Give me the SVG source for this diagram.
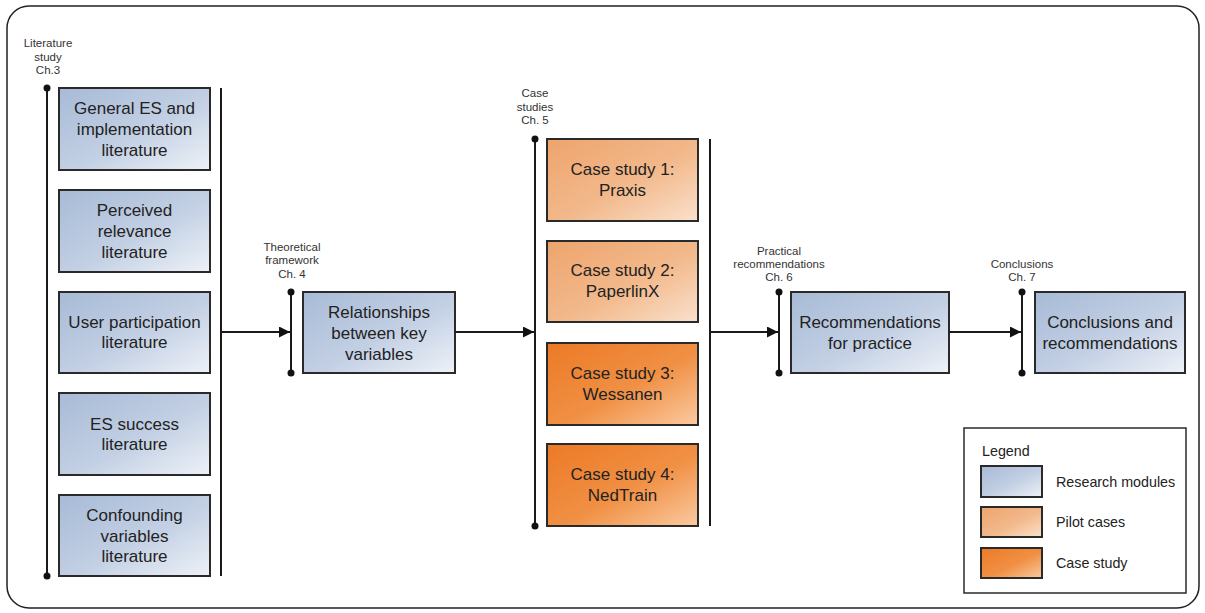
<svg xmlns="http://www.w3.org/2000/svg" width="1205" height="613" viewBox="0 0 1205 613">
<defs>
<linearGradient id="gBlue" x1="0" y1="0" x2="1" y2="1">
<stop offset="0" stop-color="#a7bad6"/><stop offset="0.55" stop-color="#c3d0e4"/><stop offset="1" stop-color="#eef2f8"/>
</linearGradient>
<linearGradient id="gPilot" x1="0" y1="0" x2="1" y2="1">
<stop offset="0" stop-color="#eea46c"/><stop offset="0.55" stop-color="#f2b98c"/><stop offset="1" stop-color="#fae1cc"/>
</linearGradient>
<linearGradient id="gCase" x1="0" y1="0" x2="1" y2="1">
<stop offset="0" stop-color="#ec7a26"/><stop offset="0.55" stop-color="#f09044"/><stop offset="1" stop-color="#fbcaa0"/>
</linearGradient>
<marker id="arr" viewBox="0 0 10 10" refX="10" refY="5" markerWidth="16" markerHeight="11" markerUnits="userSpaceOnUse" orient="auto">
<path d="M0,0 L10,5 L0,10 z" fill="#111"/>
</marker>
</defs>
<style>
.blue{fill:url(#gBlue);stroke:#2a2a2a;stroke-width:2}
.pilot{fill:url(#gPilot);stroke:#2a2a2a;stroke-width:2}
.case{fill:url(#gCase);stroke:#2a2a2a;stroke-width:2}
.t{font-family:"Liberation Sans",Arial,sans-serif;font-size:17px;fill:#222;text-anchor:middle}
.s{font-family:"Liberation Sans",Arial,sans-serif;font-size:11.5px;fill:#333;text-anchor:middle}
.lg{font-family:"Liberation Sans",Arial,sans-serif;font-size:14.3px;fill:#222}
.bar{stroke:#1a1a1a;stroke-width:2;fill:none}
.dot{fill:#111}
.con{stroke:#1a1a1a;stroke-width:2;fill:none}
</style>
<rect x="7" y="6" width="1192" height="602" rx="22" ry="22" fill="#fff" stroke="#222" stroke-width="1.5"/>

<g id="phase-lit">
<text class="s" x="48" y="47">Literature</text>
<text class="s" x="48" y="61">study</text>
<text class="s" x="48" y="74">Ch.3</text>
<line class="bar" x1="47" y1="88" x2="47" y2="576"/>
<circle class="dot" cx="47" cy="88" r="3.5"/>
<circle class="dot" cx="47" cy="576" r="3.5"/>
<line class="bar" x1="221" y1="88" x2="221" y2="576"/>
</g>
<g id="n-general"><rect class="blue" x="59" y="88" width="151" height="82"/>
<text class="t" x="134.5" y="114">General ES and</text><text class="t" x="134.5" y="135">implementation</text><text class="t" x="134.5" y="156">literature</text></g>
<g id="n-perceived"><rect class="blue" x="59" y="190" width="151" height="82"/>
<text class="t" x="134.5" y="216">Perceived</text><text class="t" x="134.5" y="237">relevance</text><text class="t" x="134.5" y="258">literature</text></g>
<g id="n-user"><rect class="blue" x="59" y="292" width="151" height="81"/>
<text class="t" x="134.5" y="328">User participation</text><text class="t" x="134.5" y="348">literature</text></g>
<g id="n-success"><rect class="blue" x="59" y="393" width="151" height="82"/>
<text class="t" x="134.5" y="430">ES success</text><text class="t" x="134.5" y="450">literature</text></g>
<g id="n-confounding"><rect class="blue" x="59" y="495" width="151" height="81"/>
<text class="t" x="134.5" y="521">Confounding</text><text class="t" x="134.5" y="542">variables</text><text class="t" x="134.5" y="562">literature</text></g>

<g id="phase-theory">
<text class="s" x="292" y="251">Theoretical</text>
<text class="s" x="292" y="264">framework</text>
<text class="s" x="292" y="278">Ch. 4</text>
<line class="bar" x1="291" y1="292" x2="291" y2="373"/>
<circle class="dot" cx="291" cy="292" r="3.5"/>
<circle class="dot" cx="291" cy="373" r="3.5"/>
</g>
<g id="n-relationships"><rect class="blue" x="303" y="292" width="152" height="81"/>
<text class="t" x="379" y="318">Relationships</text><text class="t" x="379" y="339">between key</text><text class="t" x="379" y="360">variables</text></g>

<g id="phase-cases">
<text class="s" x="535" y="97">Case</text>
<text class="s" x="535" y="111">studies</text>
<text class="s" x="535" y="124">Ch. 5</text>
<line class="bar" x1="535" y1="139" x2="535" y2="526"/>
<circle class="dot" cx="535" cy="139" r="3.5"/>
<circle class="dot" cx="535" cy="526" r="3.5"/>
<line class="bar" x1="710" y1="139" x2="710" y2="526"/>
</g>
<g id="n-case1"><rect class="pilot" x="547" y="139" width="151" height="82"/>
<text class="t" x="622.5" y="175">Case study 1:</text><text class="t" x="622.5" y="196">Praxis</text></g>
<g id="n-case2"><rect class="pilot" x="547" y="241" width="151" height="81"/>
<text class="t" x="622.5" y="276">Case study 2:</text><text class="t" x="622.5" y="297">PaperlinX</text></g>
<g id="n-case3"><rect class="case" x="547" y="343" width="151" height="82"/>
<text class="t" x="622.5" y="379">Case study 3:</text><text class="t" x="622.5" y="400">Wessanen</text></g>
<g id="n-case4"><rect class="case" x="547" y="444" width="151" height="82"/>
<text class="t" x="622.5" y="480">Case study 4:</text><text class="t" x="622.5" y="501">NedTrain</text></g>

<g id="phase-practical">
<text class="s" x="779" y="255">Practical</text>
<text class="s" x="779" y="268">recommendations</text>
<text class="s" x="779" y="281">Ch. 6</text>
<line class="bar" x1="779" y1="292" x2="779" y2="373"/>
<circle class="dot" cx="779" cy="292" r="3.5"/>
<circle class="dot" cx="779" cy="373" r="3.5"/>
</g>
<g id="n-recommendations"><rect class="blue" x="791" y="292" width="158" height="81"/>
<text class="t" x="870" y="328">Recommendations</text><text class="t" x="870" y="349">for practice</text></g>

<g id="phase-conclusions">
<text class="s" x="1022" y="268">Conclusions</text>
<text class="s" x="1022" y="281">Ch. 7</text>
<line class="bar" x1="1022" y1="292" x2="1022" y2="373"/>
<circle class="dot" cx="1022" cy="292" r="3.5"/>
<circle class="dot" cx="1022" cy="373" r="3.5"/>
</g>
<g id="n-conclusions"><rect class="blue" x="1035" y="292" width="150" height="81"/>
<text class="t" x="1110" y="328">Conclusions and</text><text class="t" x="1110" y="349">recommendations</text></g>

<g id="connectors">
<line class="con" x1="221" y1="332" x2="290" y2="332" marker-end="url(#arr)"/>
<line class="con" x1="455" y1="332" x2="534" y2="332" marker-end="url(#arr)"/>
<line class="con" x1="710" y1="332" x2="778" y2="332" marker-end="url(#arr)"/>
<line class="con" x1="949" y1="332" x2="1021" y2="332" marker-end="url(#arr)"/>
</g>

<g id="legend">
<rect x="964" y="428" width="222" height="165" fill="#fff" stroke="#2a2a2a" stroke-width="1.5"/>
<text class="lg" x="982" y="456">Legend</text>
<rect class="blue" x="981" y="466" width="61" height="31"/>
<text class="lg" x="1056" y="487">Research modules</text>
<rect class="pilot" x="981" y="507" width="61" height="30"/>
<text class="lg" x="1056" y="527">Pilot cases</text>
<rect class="case" x="981" y="548" width="61" height="30"/>
<text class="lg" x="1056" y="568">Case study</text>
</g>
</svg>
